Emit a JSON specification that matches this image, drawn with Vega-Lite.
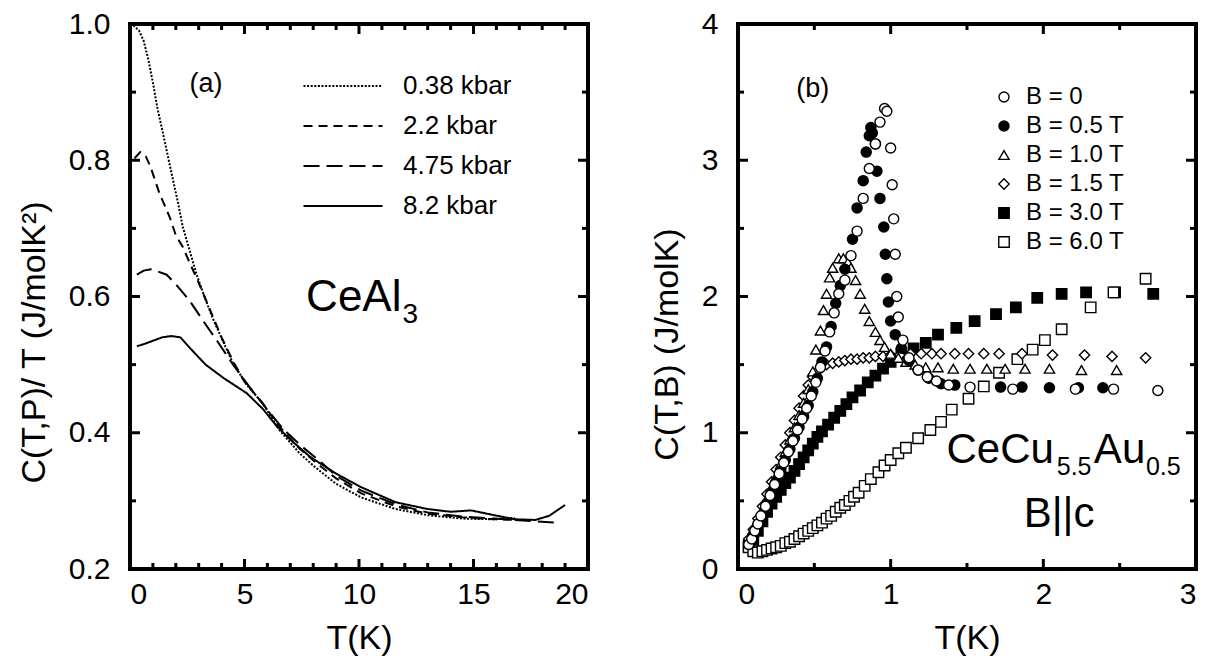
{
  "$schema": "https://vega.github.io/schema/vega-lite/v6.json",
  "background": "white",
  "padding": {"left": 17, "top": 9, "right": 5, "bottom": 5},
  "bounds": "flush",
  "spacing": 150,
  "config": {
    "font": "Liberation Sans",
    "view": {"stroke": null},
    "axis": {"labelFont": "Liberation Sans", "titleFont": "Liberation Sans", "labelFontSize": 30, "titleFontSize": 34, "titleFontWeight": "normal", "labelColor": "black", "titleColor": "black", "grid": false, "domain": false, "ticks": true, "tickSize": 0, "tickColor": "black"},
    "legend": {"labelFont": "Liberation Sans", "labelColor": "black", "padding": 0},
    "text": {"font": "Liberation Sans", "color": "black"}
  },
  "datasets": {
    "ticksA": [
      {"dir": "x", "t": 5, "k": "major"}, {"dir": "x", "t": 10, "k": "major"}, {"dir": "x", "t": 15, "k": "major"},
      {"dir": "x", "t": 1, "k": "minor"}, {"dir": "x", "t": 2, "k": "minor"}, {"dir": "x", "t": 3, "k": "minor"}, {"dir": "x", "t": 4, "k": "minor"}, {"dir": "x", "t": 6, "k": "minor"}, {"dir": "x", "t": 7, "k": "minor"}, {"dir": "x", "t": 8, "k": "minor"}, {"dir": "x", "t": 9, "k": "minor"}, {"dir": "x", "t": 11, "k": "minor"}, {"dir": "x", "t": 12, "k": "minor"}, {"dir": "x", "t": 13, "k": "minor"}, {"dir": "x", "t": 14, "k": "minor"}, {"dir": "x", "t": 16, "k": "minor"}, {"dir": "x", "t": 17, "k": "minor"}, {"dir": "x", "t": 18, "k": "minor"}, {"dir": "x", "t": 19, "k": "minor"},
      {"dir": "y", "t": 0.4, "k": "major"}, {"dir": "y", "t": 0.6, "k": "major"}, {"dir": "y", "t": 0.8, "k": "major"},
      {"dir": "y", "t": 0.3, "k": "minor"}, {"dir": "y", "t": 0.5, "k": "minor"}, {"dir": "y", "t": 0.7, "k": "minor"}, {"dir": "y", "t": 0.9, "k": "minor"}
    ],
    "ticksB": [
      {"dir": "x", "t": 1, "k": "major"}, {"dir": "x", "t": 2, "k": "major"},
      {"dir": "x", "t": 0.5, "k": "minor"}, {"dir": "x", "t": 1.5, "k": "minor"}, {"dir": "x", "t": 2.5, "k": "minor"},
      {"dir": "y", "t": 1, "k": "major"}, {"dir": "y", "t": 2, "k": "major"}, {"dir": "y", "t": 3, "k": "major"},
      {"dir": "y", "t": 0.5, "k": "minor"}, {"dir": "y", "t": 1.5, "k": "minor"}, {"dir": "y", "t": 2.5, "k": "minor"}, {"dir": "y", "t": 3.5, "k": "minor"}
    ],
    "ceal3": [
      {"P": "0.38 kbar", "T": 0.15, "v": 0.998}, {"P": "0.38 kbar", "T": 0.4, "v": 0.99}, {"P": "0.38 kbar", "T": 0.6, "v": 0.975}, {"P": "0.38 kbar", "T": 0.8, "v": 0.948}, {"P": "0.38 kbar", "T": 1.0, "v": 0.914}, {"P": "0.38 kbar", "T": 1.2, "v": 0.876}, {"P": "0.38 kbar", "T": 1.45, "v": 0.838}, {"P": "0.38 kbar", "T": 1.66, "v": 0.805}, {"P": "0.38 kbar", "T": 1.88, "v": 0.771}, {"P": "0.38 kbar", "T": 2.1, "v": 0.737}, {"P": "0.38 kbar", "T": 2.3, "v": 0.703}, {"P": "0.38 kbar", "T": 2.6, "v": 0.668}, {"P": "0.38 kbar", "T": 2.9, "v": 0.633}, {"P": "0.38 kbar", "T": 3.25, "v": 0.6}, {"P": "0.38 kbar", "T": 3.6, "v": 0.569}, {"P": "0.38 kbar", "T": 4.05, "v": 0.535}, {"P": "0.38 kbar", "T": 4.5, "v": 0.502}, {"P": "0.38 kbar", "T": 5.1, "v": 0.47}, {"P": "0.38 kbar", "T": 5.8, "v": 0.443}, {"P": "0.38 kbar", "T": 6.5, "v": 0.405}, {"P": "0.38 kbar", "T": 7.4, "v": 0.37}, {"P": "0.38 kbar", "T": 8.1, "v": 0.349}, {"P": "0.38 kbar", "T": 9.0, "v": 0.325}, {"P": "0.38 kbar", "T": 10.1, "v": 0.305}, {"P": "0.38 kbar", "T": 11.6, "v": 0.288}, {"P": "0.38 kbar", "T": 13.0, "v": 0.279}, {"P": "0.38 kbar", "T": 14.5, "v": 0.274}, {"P": "0.38 kbar", "T": 15.9, "v": 0.273}, {"P": "0.38 kbar", "T": 16.8, "v": 0.275},
      {"P": "2.2 kbar", "T": 0.2, "v": 0.803}, {"P": "2.2 kbar", "T": 0.45, "v": 0.812}, {"P": "2.2 kbar", "T": 0.7, "v": 0.805}, {"P": "2.2 kbar", "T": 0.9, "v": 0.79}, {"P": "2.2 kbar", "T": 1.1, "v": 0.77}, {"P": "2.2 kbar", "T": 1.3, "v": 0.75}, {"P": "2.2 kbar", "T": 1.5, "v": 0.735}, {"P": "2.2 kbar", "T": 1.75, "v": 0.715}, {"P": "2.2 kbar", "T": 2.0, "v": 0.69}, {"P": "2.2 kbar", "T": 2.3, "v": 0.673}, {"P": "2.2 kbar", "T": 2.6, "v": 0.65}, {"P": "2.2 kbar", "T": 3.0, "v": 0.62}, {"P": "2.2 kbar", "T": 3.5, "v": 0.58}, {"P": "2.2 kbar", "T": 4.0, "v": 0.54}, {"P": "2.2 kbar", "T": 4.5, "v": 0.505}, {"P": "2.2 kbar", "T": 5.0, "v": 0.475}, {"P": "2.2 kbar", "T": 5.8, "v": 0.443}, {"P": "2.2 kbar", "T": 6.5, "v": 0.41}, {"P": "2.2 kbar", "T": 7.4, "v": 0.377}, {"P": "2.2 kbar", "T": 8.2, "v": 0.354}, {"P": "2.2 kbar", "T": 9.0, "v": 0.333}, {"P": "2.2 kbar", "T": 10.1, "v": 0.311}, {"P": "2.2 kbar", "T": 11.6, "v": 0.292}, {"P": "2.2 kbar", "T": 13.0, "v": 0.281}, {"P": "2.2 kbar", "T": 14.5, "v": 0.276}, {"P": "2.2 kbar", "T": 15.9, "v": 0.273}, {"P": "2.2 kbar", "T": 17.0, "v": 0.272},
      {"P": "4.75 kbar", "T": 0.3, "v": 0.632}, {"P": "4.75 kbar", "T": 0.6, "v": 0.638}, {"P": "4.75 kbar", "T": 0.9, "v": 0.64}, {"P": "4.75 kbar", "T": 1.2, "v": 0.637}, {"P": "4.75 kbar", "T": 1.6, "v": 0.632}, {"P": "4.75 kbar", "T": 2.0, "v": 0.618}, {"P": "4.75 kbar", "T": 2.6, "v": 0.594}, {"P": "4.75 kbar", "T": 3.2, "v": 0.564}, {"P": "4.75 kbar", "T": 3.8, "v": 0.535}, {"P": "4.75 kbar", "T": 4.5, "v": 0.5}, {"P": "4.75 kbar", "T": 5.2, "v": 0.468}, {"P": "4.75 kbar", "T": 5.9, "v": 0.438}, {"P": "4.75 kbar", "T": 6.7, "v": 0.405}, {"P": "4.75 kbar", "T": 7.5, "v": 0.38}, {"P": "4.75 kbar", "T": 8.3, "v": 0.358}, {"P": "4.75 kbar", "T": 9.0, "v": 0.337}, {"P": "4.75 kbar", "T": 10.1, "v": 0.315}, {"P": "4.75 kbar", "T": 11.6, "v": 0.295}, {"P": "4.75 kbar", "T": 13.0, "v": 0.283}, {"P": "4.75 kbar", "T": 14.5, "v": 0.277}, {"P": "4.75 kbar", "T": 15.9, "v": 0.274}, {"P": "4.75 kbar", "T": 16.8, "v": 0.272}, {"P": "4.75 kbar", "T": 17.7, "v": 0.27}, {"P": "4.75 kbar", "T": 18.7, "v": 0.268},
      {"P": "8.2 kbar", "T": 0.3, "v": 0.527}, {"P": "8.2 kbar", "T": 0.6, "v": 0.53}, {"P": "8.2 kbar", "T": 1.0, "v": 0.535}, {"P": "8.2 kbar", "T": 1.4, "v": 0.54}, {"P": "8.2 kbar", "T": 1.8, "v": 0.542}, {"P": "8.2 kbar", "T": 2.2, "v": 0.54}, {"P": "8.2 kbar", "T": 2.6, "v": 0.525}, {"P": "8.2 kbar", "T": 3.3, "v": 0.5}, {"P": "8.2 kbar", "T": 4.1, "v": 0.48}, {"P": "8.2 kbar", "T": 5.1, "v": 0.458}, {"P": "8.2 kbar", "T": 5.8, "v": 0.435}, {"P": "8.2 kbar", "T": 6.4, "v": 0.41}, {"P": "8.2 kbar", "T": 7.0, "v": 0.39}, {"P": "8.2 kbar", "T": 7.85, "v": 0.365}, {"P": "8.2 kbar", "T": 9.0, "v": 0.34}, {"P": "8.2 kbar", "T": 10.1, "v": 0.32}, {"P": "8.2 kbar", "T": 11.6, "v": 0.298}, {"P": "8.2 kbar", "T": 13.0, "v": 0.288}, {"P": "8.2 kbar", "T": 14.0, "v": 0.284}, {"P": "8.2 kbar", "T": 14.9, "v": 0.286}, {"P": "8.2 kbar", "T": 15.9, "v": 0.279}, {"P": "8.2 kbar", "T": 16.8, "v": 0.273}, {"P": "8.2 kbar", "T": 17.7, "v": 0.272}, {"P": "8.2 kbar", "T": 18.3, "v": 0.278}, {"P": "8.2 kbar", "T": 19.0, "v": 0.294}
    ],
    "cecu": [
      {"B": "B = 3.0 T", "T": 0.07, "C": 0.17}, {"B": "B = 3.0 T", "T": 0.1, "C": 0.22}, {"B": "B = 3.0 T", "T": 0.13, "C": 0.28}, {"B": "B = 3.0 T", "T": 0.16, "C": 0.35}, {"B": "B = 3.0 T", "T": 0.19, "C": 0.42}, {"B": "B = 3.0 T", "T": 0.22, "C": 0.48}, {"B": "B = 3.0 T", "T": 0.25, "C": 0.53}, {"B": "B = 3.0 T", "T": 0.28, "C": 0.58}, {"B": "B = 3.0 T", "T": 0.31, "C": 0.63}, {"B": "B = 3.0 T", "T": 0.34, "C": 0.67}, {"B": "B = 3.0 T", "T": 0.37, "C": 0.72}, {"B": "B = 3.0 T", "T": 0.4, "C": 0.77}, {"B": "B = 3.0 T", "T": 0.43, "C": 0.82}, {"B": "B = 3.0 T", "T": 0.46, "C": 0.87}, {"B": "B = 3.0 T", "T": 0.49, "C": 0.92}, {"B": "B = 3.0 T", "T": 0.52, "C": 0.97}, {"B": "B = 3.0 T", "T": 0.55, "C": 1.01}, {"B": "B = 3.0 T", "T": 0.59, "C": 1.06}, {"B": "B = 3.0 T", "T": 0.63, "C": 1.11}, {"B": "B = 3.0 T", "T": 0.67, "C": 1.16}, {"B": "B = 3.0 T", "T": 0.71, "C": 1.21}, {"B": "B = 3.0 T", "T": 0.75, "C": 1.26}, {"B": "B = 3.0 T", "T": 0.8, "C": 1.31}, {"B": "B = 3.0 T", "T": 0.85, "C": 1.37}, {"B": "B = 3.0 T", "T": 0.9, "C": 1.42}, {"B": "B = 3.0 T", "T": 0.95, "C": 1.47}, {"B": "B = 3.0 T", "T": 1.0, "C": 1.52}, {"B": "B = 3.0 T", "T": 1.07, "C": 1.58}, {"B": "B = 3.0 T", "T": 1.15, "C": 1.62}, {"B": "B = 3.0 T", "T": 1.23, "C": 1.66}, {"B": "B = 3.0 T", "T": 1.31, "C": 1.72}, {"B": "B = 3.0 T", "T": 1.43, "C": 1.77}, {"B": "B = 3.0 T", "T": 1.55, "C": 1.82}, {"B": "B = 3.0 T", "T": 1.69, "C": 1.87}, {"B": "B = 3.0 T", "T": 1.82, "C": 1.92}, {"B": "B = 3.0 T", "T": 1.96, "C": 1.99}, {"B": "B = 3.0 T", "T": 2.12, "C": 2.02}, {"B": "B = 3.0 T", "T": 2.28, "C": 2.03}, {"B": "B = 3.0 T", "T": 2.47, "C": 2.03}, {"B": "B = 3.0 T", "T": 2.72, "C": 2.02},
      {"B": "B = 6.0 T", "T": 0.07, "C": 0.16}, {"B": "B = 6.0 T", "T": 0.1, "C": 0.13}, {"B": "B = 6.0 T", "T": 0.13, "C": 0.12}, {"B": "B = 6.0 T", "T": 0.16, "C": 0.13}, {"B": "B = 6.0 T", "T": 0.19, "C": 0.14}, {"B": "B = 6.0 T", "T": 0.22, "C": 0.15}, {"B": "B = 6.0 T", "T": 0.25, "C": 0.16}, {"B": "B = 6.0 T", "T": 0.28, "C": 0.17}, {"B": "B = 6.0 T", "T": 0.31, "C": 0.19}, {"B": "B = 6.0 T", "T": 0.34, "C": 0.2}, {"B": "B = 6.0 T", "T": 0.37, "C": 0.22}, {"B": "B = 6.0 T", "T": 0.4, "C": 0.24}, {"B": "B = 6.0 T", "T": 0.43, "C": 0.26}, {"B": "B = 6.0 T", "T": 0.46, "C": 0.28}, {"B": "B = 6.0 T", "T": 0.49, "C": 0.3}, {"B": "B = 6.0 T", "T": 0.52, "C": 0.32}, {"B": "B = 6.0 T", "T": 0.55, "C": 0.34}, {"B": "B = 6.0 T", "T": 0.58, "C": 0.37}, {"B": "B = 6.0 T", "T": 0.61, "C": 0.39}, {"B": "B = 6.0 T", "T": 0.64, "C": 0.42}, {"B": "B = 6.0 T", "T": 0.67, "C": 0.45}, {"B": "B = 6.0 T", "T": 0.7, "C": 0.47}, {"B": "B = 6.0 T", "T": 0.73, "C": 0.5}, {"B": "B = 6.0 T", "T": 0.76, "C": 0.53}, {"B": "B = 6.0 T", "T": 0.79, "C": 0.56}, {"B": "B = 6.0 T", "T": 0.83, "C": 0.61}, {"B": "B = 6.0 T", "T": 0.87, "C": 0.66}, {"B": "B = 6.0 T", "T": 0.92, "C": 0.71}, {"B": "B = 6.0 T", "T": 0.96, "C": 0.76}, {"B": "B = 6.0 T", "T": 1.0, "C": 0.8}, {"B": "B = 6.0 T", "T": 1.05, "C": 0.85}, {"B": "B = 6.0 T", "T": 1.1, "C": 0.89}, {"B": "B = 6.0 T", "T": 1.18, "C": 0.96}, {"B": "B = 6.0 T", "T": 1.26, "C": 1.02}, {"B": "B = 6.0 T", "T": 1.33, "C": 1.08}, {"B": "B = 6.0 T", "T": 1.4, "C": 1.17}, {"B": "B = 6.0 T", "T": 1.51, "C": 1.25}, {"B": "B = 6.0 T", "T": 1.61, "C": 1.34}, {"B": "B = 6.0 T", "T": 1.71, "C": 1.44}, {"B": "B = 6.0 T", "T": 1.83, "C": 1.54}, {"B": "B = 6.0 T", "T": 1.93, "C": 1.61}, {"B": "B = 6.0 T", "T": 2.01, "C": 1.68}, {"B": "B = 6.0 T", "T": 2.12, "C": 1.76}, {"B": "B = 6.0 T", "T": 2.31, "C": 1.92}, {"B": "B = 6.0 T", "T": 2.46, "C": 2.03}, {"B": "B = 6.0 T", "T": 2.67, "C": 2.13},
      {"B": "B = 1.5 T", "T": 0.07, "C": 0.22}, {"B": "B = 1.5 T", "T": 0.1, "C": 0.29}, {"B": "B = 1.5 T", "T": 0.13, "C": 0.37}, {"B": "B = 1.5 T", "T": 0.16, "C": 0.46}, {"B": "B = 1.5 T", "T": 0.19, "C": 0.55}, {"B": "B = 1.5 T", "T": 0.22, "C": 0.64}, {"B": "B = 1.5 T", "T": 0.25, "C": 0.73}, {"B": "B = 1.5 T", "T": 0.28, "C": 0.82}, {"B": "B = 1.5 T", "T": 0.31, "C": 0.91}, {"B": "B = 1.5 T", "T": 0.34, "C": 1.0}, {"B": "B = 1.5 T", "T": 0.37, "C": 1.09}, {"B": "B = 1.5 T", "T": 0.4, "C": 1.18}, {"B": "B = 1.5 T", "T": 0.43, "C": 1.27}, {"B": "B = 1.5 T", "T": 0.46, "C": 1.35}, {"B": "B = 1.5 T", "T": 0.49, "C": 1.41}, {"B": "B = 1.5 T", "T": 0.52, "C": 1.45}, {"B": "B = 1.5 T", "T": 0.55, "C": 1.48}, {"B": "B = 1.5 T", "T": 0.58, "C": 1.5}, {"B": "B = 1.5 T", "T": 0.62, "C": 1.51}, {"B": "B = 1.5 T", "T": 0.66, "C": 1.52}, {"B": "B = 1.5 T", "T": 0.7, "C": 1.53}, {"B": "B = 1.5 T", "T": 0.74, "C": 1.54}, {"B": "B = 1.5 T", "T": 0.78, "C": 1.54}, {"B": "B = 1.5 T", "T": 0.82, "C": 1.55}, {"B": "B = 1.5 T", "T": 0.86, "C": 1.55}, {"B": "B = 1.5 T", "T": 0.9, "C": 1.56}, {"B": "B = 1.5 T", "T": 0.95, "C": 1.56}, {"B": "B = 1.5 T", "T": 1.0, "C": 1.57}, {"B": "B = 1.5 T", "T": 1.06, "C": 1.57}, {"B": "B = 1.5 T", "T": 1.13, "C": 1.58}, {"B": "B = 1.5 T", "T": 1.2, "C": 1.58}, {"B": "B = 1.5 T", "T": 1.27, "C": 1.58}, {"B": "B = 1.5 T", "T": 1.33, "C": 1.58}, {"B": "B = 1.5 T", "T": 1.42, "C": 1.58}, {"B": "B = 1.5 T", "T": 1.51, "C": 1.58}, {"B": "B = 1.5 T", "T": 1.61, "C": 1.58}, {"B": "B = 1.5 T", "T": 1.71, "C": 1.58}, {"B": "B = 1.5 T", "T": 1.86, "C": 1.58}, {"B": "B = 1.5 T", "T": 2.06, "C": 1.57}, {"B": "B = 1.5 T", "T": 2.27, "C": 1.57}, {"B": "B = 1.5 T", "T": 2.45, "C": 1.56}, {"B": "B = 1.5 T", "T": 2.67, "C": 1.55},
      {"B": "B = 1.0 T", "T": 0.07, "C": 0.2}, {"B": "B = 1.0 T", "T": 0.1, "C": 0.27}, {"B": "B = 1.0 T", "T": 0.13, "C": 0.35}, {"B": "B = 1.0 T", "T": 0.16, "C": 0.43}, {"B": "B = 1.0 T", "T": 0.19, "C": 0.52}, {"B": "B = 1.0 T", "T": 0.22, "C": 0.6}, {"B": "B = 1.0 T", "T": 0.25, "C": 0.68}, {"B": "B = 1.0 T", "T": 0.28, "C": 0.77}, {"B": "B = 1.0 T", "T": 0.31, "C": 0.86}, {"B": "B = 1.0 T", "T": 0.34, "C": 0.95}, {"B": "B = 1.0 T", "T": 0.37, "C": 1.04}, {"B": "B = 1.0 T", "T": 0.4, "C": 1.13}, {"B": "B = 1.0 T", "T": 0.43, "C": 1.22}, {"B": "B = 1.0 T", "T": 0.46, "C": 1.32}, {"B": "B = 1.0 T", "T": 0.49, "C": 1.45}, {"B": "B = 1.0 T", "T": 0.51, "C": 1.61}, {"B": "B = 1.0 T", "T": 0.54, "C": 1.75}, {"B": "B = 1.0 T", "T": 0.56, "C": 1.9}, {"B": "B = 1.0 T", "T": 0.58, "C": 2.02}, {"B": "B = 1.0 T", "T": 0.6, "C": 2.14}, {"B": "B = 1.0 T", "T": 0.62, "C": 2.21}, {"B": "B = 1.0 T", "T": 0.66, "C": 2.28}, {"B": "B = 1.0 T", "T": 0.69, "C": 2.28}, {"B": "B = 1.0 T", "T": 0.72, "C": 2.25}, {"B": "B = 1.0 T", "T": 0.74, "C": 2.21}, {"B": "B = 1.0 T", "T": 0.77, "C": 2.12}, {"B": "B = 1.0 T", "T": 0.8, "C": 2.02}, {"B": "B = 1.0 T", "T": 0.83, "C": 1.91}, {"B": "B = 1.0 T", "T": 0.86, "C": 1.82}, {"B": "B = 1.0 T", "T": 0.9, "C": 1.74}, {"B": "B = 1.0 T", "T": 0.93, "C": 1.68}, {"B": "B = 1.0 T", "T": 0.96, "C": 1.63}, {"B": "B = 1.0 T", "T": 1.0, "C": 1.58}, {"B": "B = 1.0 T", "T": 1.05, "C": 1.55}, {"B": "B = 1.0 T", "T": 1.1, "C": 1.52}, {"B": "B = 1.0 T", "T": 1.16, "C": 1.5}, {"B": "B = 1.0 T", "T": 1.23, "C": 1.48}, {"B": "B = 1.0 T", "T": 1.31, "C": 1.48}, {"B": "B = 1.0 T", "T": 1.41, "C": 1.47}, {"B": "B = 1.0 T", "T": 1.52, "C": 1.47}, {"B": "B = 1.0 T", "T": 1.63, "C": 1.47}, {"B": "B = 1.0 T", "T": 1.75, "C": 1.47}, {"B": "B = 1.0 T", "T": 1.88, "C": 1.47}, {"B": "B = 1.0 T", "T": 2.04, "C": 1.47}, {"B": "B = 1.0 T", "T": 2.25, "C": 1.46}, {"B": "B = 1.0 T", "T": 2.48, "C": 1.46},
      {"B": "B = 0.5 T", "T": 0.07, "C": 0.18}, {"B": "B = 0.5 T", "T": 0.1, "C": 0.25}, {"B": "B = 0.5 T", "T": 0.13, "C": 0.32}, {"B": "B = 0.5 T", "T": 0.16, "C": 0.4}, {"B": "B = 0.5 T", "T": 0.19, "C": 0.48}, {"B": "B = 0.5 T", "T": 0.22, "C": 0.56}, {"B": "B = 0.5 T", "T": 0.25, "C": 0.64}, {"B": "B = 0.5 T", "T": 0.28, "C": 0.72}, {"B": "B = 0.5 T", "T": 0.31, "C": 0.8}, {"B": "B = 0.5 T", "T": 0.34, "C": 0.88}, {"B": "B = 0.5 T", "T": 0.37, "C": 0.96}, {"B": "B = 0.5 T", "T": 0.4, "C": 1.04}, {"B": "B = 0.5 T", "T": 0.43, "C": 1.12}, {"B": "B = 0.5 T", "T": 0.46, "C": 1.2}, {"B": "B = 0.5 T", "T": 0.49, "C": 1.3}, {"B": "B = 0.5 T", "T": 0.52, "C": 1.4}, {"B": "B = 0.5 T", "T": 0.55, "C": 1.52}, {"B": "B = 0.5 T", "T": 0.58, "C": 1.63}, {"B": "B = 0.5 T", "T": 0.61, "C": 1.78}, {"B": "B = 0.5 T", "T": 0.64, "C": 1.95}, {"B": "B = 0.5 T", "T": 0.67, "C": 2.08}, {"B": "B = 0.5 T", "T": 0.7, "C": 2.2}, {"B": "B = 0.5 T", "T": 0.75, "C": 2.42}, {"B": "B = 0.5 T", "T": 0.78, "C": 2.65}, {"B": "B = 0.5 T", "T": 0.82, "C": 2.85}, {"B": "B = 0.5 T", "T": 0.84, "C": 3.06}, {"B": "B = 0.5 T", "T": 0.86, "C": 3.18}, {"B": "B = 0.5 T", "T": 0.87, "C": 3.24}, {"B": "B = 0.5 T", "T": 0.88, "C": 3.2}, {"B": "B = 0.5 T", "T": 0.9, "C": 3.12}, {"B": "B = 0.5 T", "T": 0.91, "C": 2.92}, {"B": "B = 0.5 T", "T": 0.93, "C": 2.72}, {"B": "B = 0.5 T", "T": 0.955, "C": 2.51}, {"B": "B = 0.5 T", "T": 0.965, "C": 2.31}, {"B": "B = 0.5 T", "T": 0.975, "C": 2.13}, {"B": "B = 0.5 T", "T": 0.985, "C": 1.96}, {"B": "B = 0.5 T", "T": 1.0, "C": 1.82}, {"B": "B = 0.5 T", "T": 1.03, "C": 1.72}, {"B": "B = 0.5 T", "T": 1.07, "C": 1.62}, {"B": "B = 0.5 T", "T": 1.12, "C": 1.53}, {"B": "B = 0.5 T", "T": 1.18, "C": 1.46}, {"B": "B = 0.5 T", "T": 1.25, "C": 1.4}, {"B": "B = 0.5 T", "T": 1.33, "C": 1.36}, {"B": "B = 0.5 T", "T": 1.42, "C": 1.35}, {"B": "B = 0.5 T", "T": 1.72, "C": 1.335}, {"B": "B = 0.5 T", "T": 1.86, "C": 1.335}, {"B": "B = 0.5 T", "T": 2.04, "C": 1.33}, {"B": "B = 0.5 T", "T": 2.23, "C": 1.33}, {"B": "B = 0.5 T", "T": 2.39, "C": 1.33},
      {"B": "B = 0", "T": 0.07, "C": 0.18}, {"B": "B = 0", "T": 0.09, "C": 0.22}, {"B": "B = 0", "T": 0.11, "C": 0.28}, {"B": "B = 0", "T": 0.13, "C": 0.33}, {"B": "B = 0", "T": 0.15, "C": 0.39}, {"B": "B = 0", "T": 0.18, "C": 0.46}, {"B": "B = 0", "T": 0.21, "C": 0.54}, {"B": "B = 0", "T": 0.24, "C": 0.62}, {"B": "B = 0", "T": 0.27, "C": 0.7}, {"B": "B = 0", "T": 0.3, "C": 0.78}, {"B": "B = 0", "T": 0.33, "C": 0.86}, {"B": "B = 0", "T": 0.36, "C": 0.94}, {"B": "B = 0", "T": 0.39, "C": 1.02}, {"B": "B = 0", "T": 0.42, "C": 1.1}, {"B": "B = 0", "T": 0.45, "C": 1.18}, {"B": "B = 0", "T": 0.48, "C": 1.27}, {"B": "B = 0", "T": 0.51, "C": 1.37}, {"B": "B = 0", "T": 0.54, "C": 1.48}, {"B": "B = 0", "T": 0.57, "C": 1.6}, {"B": "B = 0", "T": 0.6, "C": 1.74}, {"B": "B = 0", "T": 0.63, "C": 1.88}, {"B": "B = 0", "T": 0.66, "C": 2.02}, {"B": "B = 0", "T": 0.7, "C": 2.12}, {"B": "B = 0", "T": 0.74, "C": 2.3}, {"B": "B = 0", "T": 0.78, "C": 2.48}, {"B": "B = 0", "T": 0.82, "C": 2.72}, {"B": "B = 0", "T": 0.86, "C": 2.94}, {"B": "B = 0", "T": 0.9, "C": 3.12}, {"B": "B = 0", "T": 0.93, "C": 3.28}, {"B": "B = 0", "T": 0.96, "C": 3.38}, {"B": "B = 0", "T": 0.975, "C": 3.36}, {"B": "B = 0", "T": 1.0, "C": 3.09}, {"B": "B = 0", "T": 1.01, "C": 2.82}, {"B": "B = 0", "T": 1.02, "C": 2.57}, {"B": "B = 0", "T": 1.03, "C": 2.31}, {"B": "B = 0", "T": 1.04, "C": 2.0}, {"B": "B = 0", "T": 1.05, "C": 1.85}, {"B": "B = 0", "T": 1.08, "C": 1.68}, {"B": "B = 0", "T": 1.12, "C": 1.55}, {"B": "B = 0", "T": 1.18, "C": 1.46}, {"B": "B = 0", "T": 1.24, "C": 1.41}, {"B": "B = 0", "T": 1.3, "C": 1.38}, {"B": "B = 0", "T": 1.38, "C": 1.35}, {"B": "B = 0", "T": 1.52, "C": 1.335}, {"B": "B = 0", "T": 1.8, "C": 1.32}, {"B": "B = 0", "T": 2.21, "C": 1.32}, {"B": "B = 0", "T": 2.46, "C": 1.32}, {"B": "B = 0", "T": 2.75, "C": 1.31}
    ]
  },
  "hconcat": [
    {
      "width": 458,
      "height": 545,
      "layer": [
        {
          "data": {"name": "ceal3"},
          "mark": {"type": "line", "strokeWidth": 2, "color": "black"},
          "encoding": {
            "x": {"field": "T", "type": "quantitative", "scale": {"domain": [0, 20], "nice": false, "zero": false}, "axis": {"orient": "bottom", "values": [0, 5, 10, 15, 20], "format": "d", "tickSize": 0, "labelPadding": 10, "title": "T(K)", "titlePadding": 12}},
            "y": {"field": "v", "type": "quantitative", "scale": {"domain": [0.2, 1.0], "nice": false, "zero": false}, "axis": {"orient": "left", "values": [0.2, 0.4, 0.6, 0.8, 1.0], "format": ".1f", "tickSize": 0, "labelPadding": 20, "title": "C(T,P)/ T (J/molK²)", "titlePadding": 17, "titleY": 318}},
            "detail": {"field": "P", "type": "nominal"},
            "strokeDash": {"field": "P", "type": "nominal", "scale": {"domain": ["0.38 kbar", "2.2 kbar", "4.75 kbar", "8.2 kbar"], "range": [[2, 1.6], [9, 6], [16, 7], [1, 0]]}, "legend": {"title": null, "orient": "none", "legendX": 200, "legendY": 49, "symbolType": "M-4,0L4,0", "symbolSize": 390, "symbolStrokeWidth": 2, "symbolStrokeColor": "black", "labelFontSize": 26, "labelOffset": 47, "rowPadding": 14}}
          }
        },
        {
          "data": {"name": "ticksA"},
          "transform": [{"filter": "datum.dir == 'x' && datum.k == 'major'"}],
          "mark": {"type": "point", "shape": "M0,0L0,-2", "size": 100, "filled": false, "stroke": "black", "strokeWidth": 3, "opacity": 1},
          "encoding": {"x": {"field": "t", "type": "quantitative"}, "y": {"datum": 0.2, "type": "quantitative"}}
        },
        {
          "data": {"name": "ticksA"},
          "transform": [{"filter": "datum.dir == 'x' && datum.k == 'major'"}],
          "mark": {"type": "point", "shape": "M0,0L0,2", "size": 100, "filled": false, "stroke": "black", "strokeWidth": 3, "opacity": 1},
          "encoding": {"x": {"field": "t", "type": "quantitative"}, "y": {"datum": 1.0, "type": "quantitative"}}
        },
        {
          "data": {"name": "ticksA"},
          "transform": [{"filter": "datum.dir == 'x' && datum.k == 'minor'"}],
          "mark": {"type": "point", "shape": "M0,0L0,-2", "size": 36, "filled": false, "stroke": "black", "strokeWidth": 3, "opacity": 1},
          "encoding": {"x": {"field": "t", "type": "quantitative"}, "y": {"datum": 0.2, "type": "quantitative"}}
        },
        {
          "data": {"name": "ticksA"},
          "transform": [{"filter": "datum.dir == 'x' && datum.k == 'minor'"}],
          "mark": {"type": "point", "shape": "M0,0L0,2", "size": 36, "filled": false, "stroke": "black", "strokeWidth": 3, "opacity": 1},
          "encoding": {"x": {"field": "t", "type": "quantitative"}, "y": {"datum": 1.0, "type": "quantitative"}}
        },
        {
          "data": {"name": "ticksA"},
          "transform": [{"filter": "datum.dir == 'y' && datum.k == 'major'"}],
          "mark": {"type": "point", "shape": "M0,0L2,0", "size": 100, "filled": false, "stroke": "black", "strokeWidth": 3, "opacity": 1},
          "encoding": {"y": {"field": "t", "type": "quantitative"}, "x": {"datum": 0, "type": "quantitative"}}
        },
        {
          "data": {"name": "ticksA"},
          "transform": [{"filter": "datum.dir == 'y' && datum.k == 'major'"}],
          "mark": {"type": "point", "shape": "M0,0L-2,0", "size": 100, "filled": false, "stroke": "black", "strokeWidth": 3, "opacity": 1},
          "encoding": {"y": {"field": "t", "type": "quantitative"}, "x": {"datum": 20, "type": "quantitative"}}
        },
        {
          "data": {"name": "ticksA"},
          "transform": [{"filter": "datum.dir == 'y' && datum.k == 'minor'"}],
          "mark": {"type": "point", "shape": "M0,0L2,0", "size": 36, "filled": false, "stroke": "black", "strokeWidth": 3, "opacity": 1},
          "encoding": {"y": {"field": "t", "type": "quantitative"}, "x": {"datum": 0, "type": "quantitative"}}
        },
        {
          "data": {"name": "ticksA"},
          "transform": [{"filter": "datum.dir == 'y' && datum.k == 'minor'"}],
          "mark": {"type": "point", "shape": "M0,0L-2,0", "size": 36, "filled": false, "stroke": "black", "strokeWidth": 3, "opacity": 1},
          "encoding": {"y": {"field": "t", "type": "quantitative"}, "x": {"datum": 20, "type": "quantitative"}}
        },
        {
          "data": {"values": [{}]},
          "mark": {"type": "point", "shape": "M-1,-1.19L1,-1.19L1,1.19L-1,1.19Z", "size": 209764, "filled": false, "stroke": "black", "strokeWidth": 4, "opacity": 1},
          "encoding": {"x": {"datum": 10, "type": "quantitative"}, "y": {"datum": 0.6, "type": "quantitative"}}
        },
        {
          "data": {"values": [{}]},
          "mark": {"type": "text", "text": "(a)", "fontSize": 27, "align": "left", "baseline": "alphabetic"},
          "encoding": {"x": {"datum": 2.6, "type": "quantitative"}, "y": {"datum": 0.9, "type": "quantitative"}}
        },
        {
          "data": {"values": [{}]},
          "mark": {"type": "text", "text": "CeAl", "fontSize": 44, "align": "left", "baseline": "alphabetic"},
          "encoding": {"x": {"datum": 7.69, "type": "quantitative"}, "y": {"datum": 0.579, "type": "quantitative"}}
        },
        {
          "data": {"values": [{}]},
          "mark": {"type": "text", "text": "3", "fontSize": 28, "align": "left", "baseline": "alphabetic"},
          "encoding": {"x": {"datum": 11.9, "type": "quantitative"}, "y": {"datum": 0.561, "type": "quantitative"}}
        }
      ]
    },
    {
      "width": 458,
      "height": 545,
      "layer": [
        {
          "data": {"name": "cecu"},
          "mark": {"type": "point", "filled": false, "color": "black", "strokeWidth": 1.4, "opacity": 1},
          "encoding": {
            "x": {"field": "T", "type": "quantitative", "scale": {"domain": [0, 3], "nice": false, "zero": false}, "axis": {"orient": "bottom", "values": [0, 1, 2, 3], "format": "d", "tickSize": 0, "labelPadding": 10, "title": "T(K)", "titlePadding": 12}},
            "y": {"field": "C", "type": "quantitative", "scale": {"domain": [0, 4], "nice": false, "zero": false}, "axis": {"orient": "left", "values": [0, 1, 2, 3, 4], "format": "d", "tickSize": 0, "labelPadding": 20, "title": "C(T,B)  (J/molK)", "titlePadding": 17, "titleY": 320}},
            "shape": {"field": "B", "type": "nominal", "scale": {"domain": ["B = 0", "B = 0.5 T", "B = 1.0 T", "B = 1.5 T", "B = 3.0 T", "B = 6.0 T"], "range": ["circle", "circle", "triangle-up", "diamond", "square", "square"]}, "legend": {"title": null, "orient": "none", "legendX": 862, "legendY": 61, "labelFontSize": 24, "labelOffset": 10, "rowPadding": 5, "symbolStrokeWidth": 1.4, "symbolStrokeColor": "black"}},
            "fill": {"field": "B", "type": "nominal", "scale": {"domain": ["B = 0", "B = 0.5 T", "B = 1.0 T", "B = 1.5 T", "B = 3.0 T", "B = 6.0 T"], "range": ["white", "black", "white", "white", "black", "white"]}, "legend": {"title": null, "orient": "none", "legendX": 862, "legendY": 61, "labelFontSize": 24, "labelOffset": 10, "rowPadding": 5, "symbolStrokeWidth": 1.4, "symbolStrokeColor": "black"}},
            "stroke": {"field": "B", "type": "nominal", "scale": {"domain": ["B = 0", "B = 0.5 T", "B = 1.0 T", "B = 1.5 T", "B = 3.0 T", "B = 6.0 T"], "range": ["black", "black", "black", "black", "black", "black"]}, "legend": {"title": null, "orient": "none", "legendX": 862, "legendY": 61, "labelFontSize": 24, "labelOffset": 10, "rowPadding": 5, "symbolStrokeWidth": 1.4, "symbolStrokeColor": "black"}},
            "size": {"field": "B", "type": "nominal", "scale": {"domain": ["B = 0", "B = 0.5 T", "B = 1.0 T", "B = 1.5 T", "B = 3.0 T", "B = 6.0 T"], "range": [100, 110, 75, 70, 100, 100]}, "legend": {"title": null, "orient": "none", "legendX": 862, "legendY": 61, "labelFontSize": 24, "labelOffset": 10, "rowPadding": 5, "symbolStrokeWidth": 1.4, "symbolStrokeColor": "black"}}
          }
        },
        {
          "data": {"name": "ticksB"},
          "transform": [{"filter": "datum.dir == 'x' && datum.k == 'major'"}],
          "mark": {"type": "point", "shape": "M0,0L0,-2", "size": 100, "filled": false, "stroke": "black", "strokeWidth": 3, "opacity": 1},
          "encoding": {"x": {"field": "t", "type": "quantitative"}, "y": {"datum": 0, "type": "quantitative"}}
        },
        {
          "data": {"name": "ticksB"},
          "transform": [{"filter": "datum.dir == 'x' && datum.k == 'major'"}],
          "mark": {"type": "point", "shape": "M0,0L0,2", "size": 100, "filled": false, "stroke": "black", "strokeWidth": 3, "opacity": 1},
          "encoding": {"x": {"field": "t", "type": "quantitative"}, "y": {"datum": 4, "type": "quantitative"}}
        },
        {
          "data": {"name": "ticksB"},
          "transform": [{"filter": "datum.dir == 'x' && datum.k == 'minor'"}],
          "mark": {"type": "point", "shape": "M0,0L0,-2", "size": 36, "filled": false, "stroke": "black", "strokeWidth": 3, "opacity": 1},
          "encoding": {"x": {"field": "t", "type": "quantitative"}, "y": {"datum": 0, "type": "quantitative"}}
        },
        {
          "data": {"name": "ticksB"},
          "transform": [{"filter": "datum.dir == 'x' && datum.k == 'minor'"}],
          "mark": {"type": "point", "shape": "M0,0L0,2", "size": 36, "filled": false, "stroke": "black", "strokeWidth": 3, "opacity": 1},
          "encoding": {"x": {"field": "t", "type": "quantitative"}, "y": {"datum": 4, "type": "quantitative"}}
        },
        {
          "data": {"name": "ticksB"},
          "transform": [{"filter": "datum.dir == 'y' && datum.k == 'major'"}],
          "mark": {"type": "point", "shape": "M0,0L2,0", "size": 100, "filled": false, "stroke": "black", "strokeWidth": 3, "opacity": 1},
          "encoding": {"y": {"field": "t", "type": "quantitative"}, "x": {"datum": 0, "type": "quantitative"}}
        },
        {
          "data": {"name": "ticksB"},
          "transform": [{"filter": "datum.dir == 'y' && datum.k == 'major'"}],
          "mark": {"type": "point", "shape": "M0,0L-2,0", "size": 100, "filled": false, "stroke": "black", "strokeWidth": 3, "opacity": 1},
          "encoding": {"y": {"field": "t", "type": "quantitative"}, "x": {"datum": 3, "type": "quantitative"}}
        },
        {
          "data": {"name": "ticksB"},
          "transform": [{"filter": "datum.dir == 'y' && datum.k == 'minor'"}],
          "mark": {"type": "point", "shape": "M0,0L2,0", "size": 36, "filled": false, "stroke": "black", "strokeWidth": 3, "opacity": 1},
          "encoding": {"y": {"field": "t", "type": "quantitative"}, "x": {"datum": 0, "type": "quantitative"}}
        },
        {
          "data": {"name": "ticksB"},
          "transform": [{"filter": "datum.dir == 'y' && datum.k == 'minor'"}],
          "mark": {"type": "point", "shape": "M0,0L-2,0", "size": 36, "filled": false, "stroke": "black", "strokeWidth": 3, "opacity": 1},
          "encoding": {"y": {"field": "t", "type": "quantitative"}, "x": {"datum": 3, "type": "quantitative"}}
        },
        {
          "data": {"values": [{}]},
          "mark": {"type": "point", "shape": "M-1,-1.19L1,-1.19L1,1.19L-1,1.19Z", "size": 209764, "filled": false, "stroke": "black", "strokeWidth": 4, "opacity": 1},
          "encoding": {"x": {"datum": 1.5, "type": "quantitative"}, "y": {"datum": 2, "type": "quantitative"}}
        },
        {
          "data": {"values": [{}]},
          "mark": {"type": "text", "text": "(b)", "fontSize": 27, "align": "left", "baseline": "alphabetic"},
          "encoding": {"x": {"datum": 0.381, "type": "quantitative"}, "y": {"datum": 3.467, "type": "quantitative"}}
        },
        {
          "data": {"values": [{}]},
          "mark": {"type": "text", "text": "CeCu", "fontSize": 42, "align": "left", "baseline": "alphabetic"},
          "encoding": {"x": {"datum": 1.366, "type": "quantitative"}, "y": {"datum": 0.781, "type": "quantitative"}}
        },
        {
          "data": {"values": [{}]},
          "mark": {"type": "text", "text": "5.5", "fontSize": 25, "align": "left", "baseline": "alphabetic"},
          "encoding": {"x": {"datum": 2.088, "type": "quantitative"}, "y": {"datum": 0.693, "type": "quantitative"}}
        },
        {
          "data": {"values": [{}]},
          "mark": {"type": "text", "text": "Au", "fontSize": 42, "align": "left", "baseline": "alphabetic"},
          "encoding": {"x": {"datum": 2.331, "type": "quantitative"}, "y": {"datum": 0.781, "type": "quantitative"}}
        },
        {
          "data": {"values": [{}]},
          "mark": {"type": "text", "text": "0.5", "fontSize": 25, "align": "left", "baseline": "alphabetic"},
          "encoding": {"x": {"datum": 2.672, "type": "quantitative"}, "y": {"datum": 0.693, "type": "quantitative"}}
        },
        {
          "data": {"values": [{}]},
          "mark": {"type": "text", "text": "B||c", "fontSize": 42, "align": "left", "baseline": "alphabetic"},
          "encoding": {"x": {"datum": 1.871, "type": "quantitative"}, "y": {"datum": 0.307, "type": "quantitative"}}
        }
      ]
    }
  ]
}
